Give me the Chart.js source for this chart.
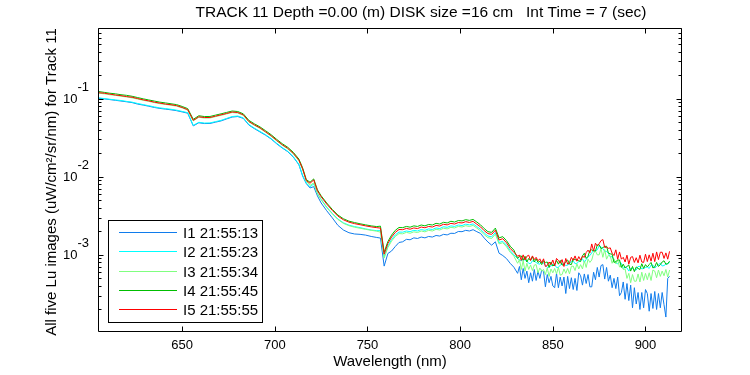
<!DOCTYPE html>
<html><head><meta charset="utf-8">
<script src="https://cdn.jsdelivr.net/npm/chart.js@4.4.1/dist/chart.umd.min.js"></script>
<style>html,body{margin:0;padding:0;background:#fff;}#wrap{width:750px;height:375px;}</style>
</head><body><div id="wrap"><canvas id="c" width="750" height="375"></canvas></div>
<script>
const wavelength = [605,608,611,614,617,620,623,626,629,632,635,638,641,644,647,650,653,656,659,662,665,668,671,674,677,680,683,686,689,692,695,698,701,704,707,710,
713,715,717,719,721,723,725,
728,731,734,737,740,743,746,749,752,755,
757,759,761,763,765,767,769,771,773,775,777,779,781,783,785,787,789,791,793,795,797,799,801,803,805,807,809,811,813,815,817,819,821,823,825,827,829,
831,832,833,834,835,836,837,838,839,840,841,842,843,844,845,846,847,848,849,850,851,852,853,854,855,856,857,858,859,860,861,862,863,864,865,866,867,868,869,870,871,872,
873,874,875,876,877,878,879,880,881,882,883,884,885,886,887,888,889,890,891,892,893,894,895,896,897,898,899,900,901,902,903,904,905,906,907,908,909,910,911,912,913];

const seriesNames = ['I1 21:55:13','I2 21:55:23','I3 21:55:34','I4 21:55:45','I5 21:55:55'];

const I1 = [0.101,0.099,0.097,0.095,0.093,0.091,0.0888,0.085,0.0825,0.0798,0.077,0.0748,0.0733,0.0718,0.070,0.0675,0.065,0.0447,0.049,0.0479,0.048,0.0499,0.0518,0.0549,0.058,0.0589,0.0558,0.0458,0.0412,0.0374,0.034,0.0304,0.0264,0.0233,0.0209,0.0178,
0.0142,0.0102,0.00815,0.00718,0.00746,0.00568,0.00461,
0.00367,0.00298,0.00239,0.00208,0.00192,0.00185,0.00183,0.00179,0.00172,0.00167,
0.00164,0.000718,0.00104,0.00112,0.00128,0.00144,0.00147,0.00158,0.00156,0.00165,0.00162,0.00169,0.00165,0.00172,0.00169,0.00177,0.00174,0.00183,0.0018,0.00189,0.00188,0.00199,0.00198,0.00206,0.00202,0.0021,0.00198,0.00188,0.00164,0.00146,0.00133,0.00147,0.00105,0.00098,0.000896,0.000779,0.000695,
0.00058,0.00071,0.00048,0.00067,0.0005,0.00062,0.00044,0.00059,0.00046,0.00065,
0.00047,0.00062,0.0005,0.00064,0.00061,0.00039,0.00056,0.00044,0.00053,0.0004,
0.00038,0.00058,0.00038,0.00052,0.0004,0.00052,0.00032,0.00053,0.00037,0.00051,
0.00036,0.0005,0.00035,0.00059,0.00054,0.00041,0.00057,0.00043,0.00056,0.00039,
0.00039,0.0006,0.00048,0.00069,0.00052,0.00073,0.00075,0.00049,0.00069,0.00046,
0.00055,0.00038,0.0005,0.00037,0.00052,0.0003,0.00033,0.00045,0.00027,0.00043,
0.00026,0.00041,0.00021,0.00038,0.000235,0.00033,0.0002,0.00033,0.00021,0.00036,
0.00032,0.00019,0.00032,0.000206,0.00034,0.0002,0.00032,0.00021,0.00033,0.00023,
0.00016,0.0005,0.00053];

const I2 = [0.102,0.100,0.098,0.096,0.0945,0.092,0.090,0.0865,0.0837,0.081,0.0782,0.076,0.0744,0.0729,0.0711,0.0685,0.066,0.0454,0.0497,0.0486,0.0488,0.0507,0.0526,0.0557,0.0589,0.0598,0.0566,0.0465,0.0418,0.038,0.0345,0.0308,0.0268,0.0236,0.0212,0.018,
0.0144,0.0104,0.00827,0.00744,0.00807,0.00612,0.00514,
0.00409,0.0034,0.00288,0.00257,0.0024,0.0023,0.00223,0.00215,0.00208,0.00204,
0.00204,0.00095,0.0013,0.00157,0.0018,0.00196,0.00195,0.00202,0.00198,0.00206,0.00202,0.00211,0.00206,0.00215,0.00211,0.00221,0.00217,0.00229,0.00225,0.00235,0.00231,0.00241,0.00237,0.00247,0.00242,0.00249,0.0023,0.00212,0.0019,0.00174,0.0017,0.00193,0.00144,0.00149,0.00133,0.00113,0.001,
0.0009,0.00086,0.00084,0.00088,0.00086,0.00083,0.00078,0.00077,0.00084,0.00083,0.0008,0.00077,0.00076,0.00082,0.00079,0.00073,0.00069,0.0007,0.00072,0.00075,0.00075,0.00069,0.00069,0.00074,0.00076,0.00077,0.00073,0.00074,0.00077,0.00083,0.00084,0.00077,0.00078,0.00082,0.00085,0.00089,0.0008,0.00087,0.00094,0.00098,0.00106,0.00115,
0.00112,0.00116,0.00131,0.00127,0.0012,0.00111,0.00111,0.00105,0.00094,0.00095,0.00087,0.00079,0.00077,0.00081,0.00078,0.00067,0.0007,0.00068,0.00062,0.00067,0.00067,0.00064,0.00064,0.00071,0.00071,0.00066,0.00067,0.00069,0.0007,0.00067,0.00074,0.00074,0.00068,0.00071,0.00075,0.00078,0.00072,0.00073,0.00076,0.00077,0.0008];

const I3 = [0.117,0.115,0.112,0.110,0.107,0.105,0.102,0.0986,0.095,0.092,0.0888,0.086,0.0842,0.0822,0.080,0.076,0.0711,0.0518,0.0577,0.0563,0.0564,0.0587,0.061,0.0636,0.0663,0.0653,0.061,0.0503,0.0454,0.0415,0.0371,0.033,0.0288,0.0253,0.0227,0.0196,
0.016,0.0124,0.00876,0.00776,0.00832,0.00603,0.00507,
0.00403,0.00335,0.00284,0.00253,0.00236,0.00226,0.00219,0.00212,0.00206,0.00201,
0.00195,0.000909,0.00124,0.0015,0.00172,0.00187,0.00186,0.00194,0.00189,0.00197,0.00193,0.00202,0.00197,0.00206,0.00202,0.00212,0.00208,0.00219,0.00215,0.00225,0.00221,0.00231,0.00227,0.00236,0.00231,0.00238,0.0022,0.00202,0.00181,0.00166,0.00162,0.00184,0.00138,0.00143,0.00127,0.00108,0.000963,
0.00078,0.00087,0.00065,0.00084,0.00062,0.00078,0.00065,0.00074,0.00063,0.00074,
0.00075,0.00059,0.00068,0.00062,0.00065,0.00056,0.00068,0.00053,0.00066,0.00059,
0.00067,0.00057,0.00069,0.00055,0.00056,0.00066,0.00058,0.00067,0.00057,0.00071,
0.00072,0.00063,0.00077,0.00066,0.00075,0.00066,0.00084,0.00069,0.00088,0.0008,
0.00086,0.00105,0.00112,0.001,0.001,0.0012,0.00093,0.00117,0.00088,0.00099,
0.00097,0.00078,0.00089,0.00077,0.00086,0.0007,0.00073,0.00065,0.00066,0.0005,
0.00058,0.00044,0.00056,0.00046,0.00046,0.00057,0.00045,0.0006,0.00047,0.00058,
0.00048,0.00059,0.00047,0.00064,0.00062,0.00051,0.00064,0.00053,0.00062,0.00054,
0.00065,0.00052,0.00064];

const I4 = [0.123,0.120,0.117,0.115,0.112,0.110,0.107,0.103,0.0992,0.096,0.0929,0.090,0.088,0.0858,0.0837,0.0793,0.0744,0.0542,0.0603,0.0589,0.059,0.0614,0.0638,0.0665,0.0693,0.0683,0.0638,0.0526,0.0475,0.0434,0.0388,0.0345,0.0301,0.0265,0.0238,0.0205,
0.0168,0.013,0.00918,0.0085,0.00937,0.00679,0.0057,
0.00461,0.00382,0.00324,0.0029,0.0027,0.00259,0.0025,0.00242,0.00235,0.0023,
0.00233,0.00108,0.00148,0.00179,0.00206,0.00224,0.00223,0.00231,0.00226,0.00235,0.00231,0.00241,0.00235,0.00245,0.00241,0.00253,0.00248,0.00261,0.00256,0.00269,0.00263,0.00275,0.00272,0.00282,0.00276,0.00284,0.00263,0.00242,0.00217,0.00198,0.00194,0.0022,0.00165,0.00171,0.00152,0.00129,0.00115,
0.0009,0.00096,0.00097,0.00085,0.00096,0.00081,0.0009,0.00085,0.00095,0.00081,
0.00089,0.0008,0.00083,0.00075,0.00084,0.0008,0.00081,0.00069,0.00081,0.00072,
0.00075,0.00085,0.00076,0.00085,0.00074,0.00075,0.00082,0.00086,0.00076,0.00075,
0.00089,0.00087,0.00086,0.00084,0.00082,0.00097,0.00105,0.0009,0.00096,0.00114,
0.00116,0.00112,0.00112,0.00134,0.00135,0.0012,0.00124,0.00128,0.00129,0.00105,
0.00103,0.00102,0.0008,0.00082,0.00086,0.00086,0.00069,0.00076,0.00068,0.00071,
0.00074,0.00062,0.00071,0.00061,0.0007,0.00067,0.00065,0.00077,0.00067,0.00075,
0.0007,0.00075,0.0008,0.00068,0.0007,0.0008,0.00071,0.00075,0.00081,0.00084,
0.00076,0.00077,0.00083];

const I5 = [0.119,0.117,0.114,0.111,0.109,0.106,0.104,0.100,0.0963,0.0934,0.090,0.0875,0.085,0.0834,0.0812,0.077,0.0722,0.0526,0.0585,0.0572,0.0573,0.0596,0.062,0.0645,0.0673,0.0663,0.062,0.051,0.0461,0.0422,0.0376,0.0335,0.0292,0.0257,0.0231,0.0199,
0.0163,0.0126,0.00891,0.00825,0.00909,0.00659,0.00553,
0.00447,0.00371,0.00314,0.00281,0.00262,0.00251,0.00243,0.00235,0.00228,0.00223,
0.0022,0.00102,0.0014,0.00169,0.00194,0.00211,0.0021,0.00218,0.00213,0.00221,0.00217,0.00227,0.00222,0.00231,0.00227,0.00238,0.00234,0.00246,0.00242,0.00253,0.00248,0.00259,0.00256,0.00266,0.0026,0.00268,0.00247,0.00228,0.00204,0.00187,0.00183,0.00207,0.00155,0.00161,0.00143,0.00121,0.00108,
0.00096,0.00099,0.00085,0.001,0.00086,0.00096,0.00099,0.00085,0.00097,0.00087,
0.00093,0.00084,0.00089,0.00079,0.00089,0.00071,0.00073,0.00081,0.00075,0.00086,
0.00072,0.0009,0.00085,0.00078,0.00087,0.00071,0.0009,0.00076,0.00079,0.00093,
0.00085,0.00097,0.00083,0.00095,0.00086,0.00096,0.00093,0.00107,0.00115,0.00106,
0.00138,0.00112,0.00141,0.0013,0.00139,0.00152,0.00157,0.00124,0.00126,0.00121,
0.00123,0.00105,0.00098,0.00116,0.00088,0.00109,0.00088,0.00093,0.00081,0.00099,
0.00076,0.00093,0.00095,0.0008,0.00092,0.00079,0.00099,0.00081,0.0008,0.00102,
0.00082,0.001,0.00083,0.00105,0.00082,0.00109,0.00087,0.00108,0.00108,0.0009,
0.00106,0.00088,0.00111];

const xTicks = [650,700,750,800,850,900];
const yTicks = [0.1,0.01,0.001];
const yTickExps = ['-1','-2','-3'];
const titleText = 'TRACK 11 Depth =0.00 (m) DISK size =16 cm   Int Time = 7 (sec)';
const xLabel = 'Wavelength (nm)';
const yLabel = 'All five Lu images (uW/cm\u00B2/sr/nm) for Track 11';

const colors = ['rgb(16,124,236)','rgb(0,255,255)','rgb(128,255,128)','rgb(0,190,0)','rgb(255,0,0)'];
const allSeries = [I1,I2,I3,I4,I5];

const FONT = '"Liberation Sans", Arial, Helvetica, sans-serif';

const matlabAxes = {
  id: 'matlabAxes',
  afterDatasetsDraw(chart) {
    const ctx = chart.ctx;
    const a = chart.chartArea;
    const xs = chart.scales.x, ys = chart.scales.y;
    const L = Math.round(a.left) + 0.5, R = Math.round(a.right) - 0.5;
    const T = Math.round(a.top) + 0.5, B = Math.round(a.bottom) - 0.5;
    ctx.save();
    ctx.strokeStyle = '#000';
    ctx.lineWidth = 1;
    ctx.beginPath();
    ctx.rect(L, T, R - L, B - T);
    xTicks.forEach(v => {
      const px = Math.round(xs.getPixelForValue(v)) + 0.5;
      ctx.moveTo(px, B); ctx.lineTo(px, B - 5);
      ctx.moveTo(px, T); ctx.lineTo(px, T + 5);
    });
    for (let e = -4; e <= 0; e++) {
      for (let k = 1; k <= 9; k++) {
        const v = k * Math.pow(10, e);
        if (v < ys.min || v > ys.max) continue;
        const py = Math.round(ys.getPixelForValue(v)) + 0.5;
        const len = k === 1 ? 5 : 3;
        ctx.moveTo(L, py); ctx.lineTo(L + len, py);
        ctx.moveTo(R, py); ctx.lineTo(R - len, py);
      }
    }
    ctx.stroke();

    ctx.fillStyle = '#000';
    ctx.font = '13px ' + FONT;
    ctx.textAlign = 'center';
    ctx.textBaseline = 'middle';
    xTicks.forEach(v => {
      ctx.fillText(String(v), xs.getPixelForValue(v), a.bottom + 13);
    });
    yTicks.forEach((v, i) => {
      const py = ys.getPixelForValue(v);
      ctx.font = '13px ' + FONT;
      const sw = ctx.measureText(yTickExps[i]).width;
      const xr = a.left - 9;
      ctx.textAlign = 'left';
      ctx.fillText(yTickExps[i], xr - sw, py - 11);
      ctx.textAlign = 'right';
      ctx.fillText('10', xr - sw, py + 1);
    });
    ctx.font = '15.5px ' + FONT;
    ctx.textAlign = 'center';
    ctx.fillText(titleText, 421, 13);
    ctx.font = '15px ' + FONT;
    ctx.fillText(xLabel, (a.left + a.right) / 2, a.bottom + 30);
    ctx.save();
    ctx.translate(52, (a.top + a.bottom) / 2 + 2);
    ctx.rotate(-Math.PI / 2);
    ctx.fillText(yLabel, 0, 0);
    ctx.restore();

    const lx = 108.5, ly = 220.5, lw = 154, lh = 102;
    ctx.fillStyle = '#fff';
    ctx.fillRect(lx, ly, lw, lh);
    ctx.strokeStyle = '#000';
    ctx.strokeRect(lx, ly, lw, lh);
    ctx.font = '15px ' + FONT;
    ctx.textAlign = 'left';
    chart.data.datasets.forEach((ds, i) => {
      const ry = Math.round(232 + i * 19.3) + 0.5;
      ctx.strokeStyle = ds.borderColor;
      ctx.beginPath();
      ctx.moveTo(119, ry); ctx.lineTo(177, ry);
      ctx.stroke();
      ctx.fillStyle = '#000';
      ctx.fillText(ds.label, 183, ry + 1);
    });
    ctx.restore();
  }
};

new Chart(document.getElementById('c'), {
  type: 'line',
  data: {
    datasets: allSeries.map((arr, i) => ({
      label: seriesNames[i],
      data: wavelength.map((w, j) => ({x: w, y: arr[j]})),
      borderColor: colors[i],
      backgroundColor: colors[i],
      borderWidth: 1,
      pointRadius: 0,
      tension: 0,
      fill: false,
      order: 5 - i
    }))
  },
  options: {
    responsive: false,
    devicePixelRatio: 1,
    animation: false,
    events: [],
    layout: {padding: {left: 98, top: 28, right: 68, bottom: 43}},
    plugins: {legend: {display: false}, tooltip: {enabled: false}, title: {display: false}},
    scales: {
      x: {type: 'linear', min: 604.6, max: 919.7, display: false},
      y: {type: 'logarithmic', min: 1.03e-4, max: 0.8, display: false}
    }
  },
  plugins: [matlabAxes]
});
</script>
</body></html>
